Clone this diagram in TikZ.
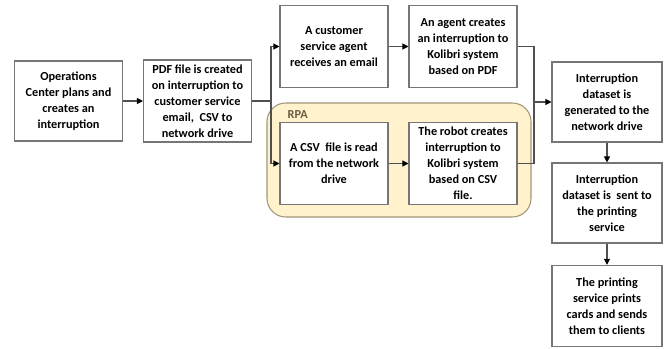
\documentclass[tikz,border=0pt]{standalone}
\usepackage{fontspec}
\setmainfont{Carlito}
\usetikzlibrary{arrows.meta}
\definecolor{boxline}{HTML}{767676}
\definecolor{flowline}{HTML}{505050}
\definecolor{rpafill}{HTML}{FFF2CC}
\definecolor{rpaline}{HTML}{A3977A}
\definecolor{rpatext}{HTML}{6B5E42}
\tikzset{
  stepbox/.style={draw=boxline, line width=0.8pt, fill=white, minimum width=81pt,
    minimum height=61.5pt, align=center, inner sep=1pt,
    font=\fontsize{9.2}{12}\selectfont\bfseries},
  flow/.style={draw=flowline, line width=0.8pt},
  flowarrow/.style={flow, -{Triangle[length=4.5pt,width=4.5pt,color=black]}}
}
\begin{document}
\begin{tikzpicture}[x=0.75pt, y=-0.75pt]
\useasboundingbox (0,0) rectangle (666,349);
% RPA container
\draw[fill=rpafill, draw=rpaline, line width=0.8pt, rounded corners=14pt]
  (267,103) rectangle (531,217);
\node[anchor=west, text=rpatext, font=\fontsize{9.2}{12}\selectfont\bfseries] (rpa) at (283,115) {RPA};

% process steps
\node[stepbox, minimum height=60pt] (ops) at (68.5,101) {Operations\\Center plans and\\creates an\\interruption};
\node[stepbox] (pdf) at (197.5,101) {PDF file is created\\on interruption to\\customer service\\email,~ CSV to\\network drive};
\node[stepbox] (agent) at (334,46.5) {A customer\\service agent\\receives an email};
\node[stepbox] (agentkol) at (463,46.5) {An agent creates\\an interruption to\\Kolibri system\\based on PDF};
\node[stepbox, minimum height=61pt] (csv) at (334,163.5) {A CSV~ file is read\\from the network\\drive};
\node[stepbox, minimum height=61pt] (robot) at (463,163.5) {The robot creates\\interruption to\\Kolibri system\\based on CSV\\file.};
\node[stepbox, minimum width=82.5pt, minimum height=60pt] (dataset) at (607,102) {Interruption\\dataset is\\generated to the\\network drive};
\node[stepbox, minimum width=82.5pt, minimum height=60pt] (sent) at (607,203) {Interruption\\dataset is~ sent to\\the printing\\service};
\node[stepbox, minimum width=82.5pt, minimum height=61pt] (print) at (607,306) {The printing\\service prints\\cards and sends\\them to clients};

% junction points
\coordinate (split) at (271,101);
\coordinate (join) at (534,102);

% connectors
\draw[flowarrow] (ops) -- (pdf);
\draw[flow] (pdf.east) -- (split);
\draw[flowarrow] (split) |- (agent.west);
\draw[flowarrow] (split) |- (csv.west);
\draw[flowarrow] (agent) -- (agentkol);
\draw[flowarrow] (csv) -- (robot);
\draw[flow] (agentkol.east) -| (join);
\draw[flow] (robot.east) -| (join);
\draw[flowarrow] (join) -- (dataset.west |- join);
\draw[flowarrow] (dataset) -- (sent);
\draw[flowarrow] (sent) -- (print);
\end{tikzpicture}
\end{document}
